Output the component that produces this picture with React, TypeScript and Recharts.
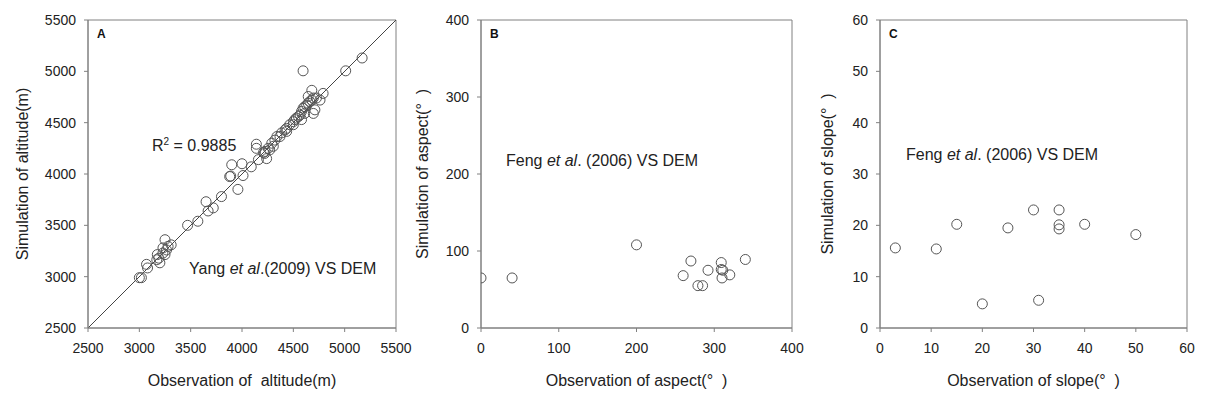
import React from "react";
import { ScatterChart, Scatter, XAxis, YAxis, ReferenceLine, ReferenceArea, Label } from "recharts";

// panel A: altitude (m)
const altObs = [3000, 3020, 3070, 3080, 3175, 3170, 3200, 3190, 3250, 3230, 3265, 3250, 3280, 3310, 3230, 3470, 3570, 3650, 3670, 3720, 3800, 3890, 3900, 3880, 3960, 4000, 4010, 4090, 4140, 4140, 4160, 4240, 4220, 4225, 4255, 4290, 4320, 4340, 4385, 4420, 4435, 4465, 4500, 4515, 4530, 4550, 4565, 4580, 4595, 4610, 4630, 4645, 4660, 4680, 4695, 4725, 4760, 4790, 4680, 4710, 4695, 4595, 5010, 5170, 4580, 4500, 4435, 4370, 4305, 4270, 4210, 4645, 4610];
const altSim = [2990, 2990, 3120, 3085, 3215, 3165, 3135, 3180, 3360, 3230, 3260, 3215, 3295, 3310, 3280, 3500, 3540, 3730, 3640, 3670, 3780, 3980, 4090, 3975, 3850, 4100, 3985, 4070, 4290, 4250, 4140, 4150, 4200, 4220, 4250, 4300, 4330, 4365, 4400, 4430, 4445, 4480, 4510, 4530, 4545, 4560, 4575, 4610, 4640, 4655, 4670, 4690, 4705, 4720, 4740, 4740, 4720, 4785, 4815, 4625, 4590, 5005, 5005, 5130, 4530, 4480, 4415, 4365, 4270, 4235, 4210, 4755, 4590];

// panel B: aspect (deg)
const aspectObs = [0, 40, 200, 260, 270, 279, 285, 292, 309, 309, 311, 310, 320, 340];
const aspectSim = [65, 65, 108, 68, 87, 55, 55, 75, 85, 76, 75, 65, 69, 89];

// panel C: slope (deg)
const slopeObs = [3, 11, 15, 20, 25, 30, 31, 35, 35, 35, 40, 50];
const slopeSim = [15.6, 15.4, 20.2, 4.7, 19.5, 23, 5.4, 23, 20.1, 19.3, 20.2, 18.2];

const altTicks = [2500, 3000, 3500, 4000, 4500, 5000, 5500];
const aspectTicks = [0, 100, 200, 300, 400];
const slopeTicks = [0, 10, 20, 30, 40, 50, 60];

const toPoints = (xs: number[], ys: number[]) => xs.map((x, i) => ({ x, y: ys[i] }));

const FONT = "Arial, 'Liberation Sans', sans-serif";
const AXIS = "#808080";
const tickStyle = { fontSize: 14, fill: "#222", fontFamily: FONT };

const Ring = (p: any) => <circle cx={p.cx} cy={p.cy} r={5} fill="none" stroke="#555" strokeWidth={1} />;

const xLabel = (text: string) => (props: any) => {
  const vb = props.viewBox;
  return (
    <text x={vb.x + vb.width / 2} y={vb.y + 58} textAnchor="middle" fontSize={16} fill="#222" fontFamily={FONT}>
      {text}
    </text>
  );
};

const yLabel = (text: string, dx: number) => (props: any) => {
  const vb = props.viewBox;
  const cx = vb.x + dx;
  const cy = vb.y + vb.height / 2;
  return (
    <text x={cx} y={cy} transform={`rotate(-90 ${cx} ${cy})`} textAnchor="middle" dominantBaseline="central" fontSize={16} fill="#222" fontFamily={FONT}>
      {text}
    </text>
  );
};

interface PanelProps {
  left: number; width: number; yAxisWidth: number; marginRight: number;
  data: { x: number; y: number }[]; ticks: number[]; letter: string;
  xText: string; yText: string; yLabelDx: number; diagonal?: boolean;
}

function Panel({ left, width, yAxisWidth, marginRight, data, ticks, letter, xText, yText, yLabelDx, diagonal }: PanelProps) {
  const lo = ticks[0];
  const hi = ticks[ticks.length - 1];
  return (
    <div style={{ position: "absolute", left, top: 0 }}>
      <ScatterChart width={width} height={406} margin={{ top: 20, right: marginRight, bottom: 0, left: 0 }}>
        <XAxis type="number" dataKey="x" domain={[lo, hi]} ticks={ticks} allowDataOverflow height={78}
          stroke={AXIS} tickSize={4} tickMargin={11} tick={tickStyle}>
          <Label content={xLabel(xText)} />
        </XAxis>
        <YAxis type="number" dataKey="y" domain={[lo, hi]} ticks={ticks} allowDataOverflow width={yAxisWidth}
          stroke={AXIS} tickSize={4} tickMargin={8} tick={tickStyle}>
          <Label content={yLabel(yText, yLabelDx)} />
        </YAxis>
        <ReferenceArea x1={lo} x2={hi} y1={lo} y2={hi} fill="none" stroke={AXIS} strokeWidth={1} fillOpacity={0}
          label={{ value: letter, position: "insideTopLeft", offset: 9, fontSize: 12, fontWeight: "bold", fill: "#111", fontFamily: FONT }} />
        {diagonal && (
          <ReferenceLine segment={[{ x: lo, y: lo }, { x: hi, y: hi }]} stroke="#444" strokeWidth={1} />
        )}
        <Scatter data={data} shape={Ring} isAnimationActive={false} />
      </ScatterChart>
    </div>
  );
}

const note: React.CSSProperties = { position: "absolute", fontFamily: FONT, fontSize: 16, color: "#222", whiteSpace: "nowrap", lineHeight: "16px" };

export default function App() {
  return (
    <div style={{ position: "absolute", left: 0, top: 0, width: 1208, height: 406, background: "#fff" }}>
      <Panel left={0} width={420} yAxisWidth={88} marginRight={24} data={toPoints(altObs, altSim)} ticks={altTicks}
        letter="A" xText={"Observation of\u00a0\u00a0altitude(m)"} yText="Simulation of altitude(m)" yLabelDx={22} diagonal />
      <Panel left={400} width={420} yAxisWidth={81} marginRight={28} data={toPoints(aspectObs, aspectSim)} ticks={aspectTicks}
        letter="B" xText={"Observation of aspect(°\u00a0\u00a0)"} yText={"Simulation of aspect(°\u00a0\u00a0)"} yLabelDx={22} />
      <Panel left={800} width={408} yAxisWidth={80} marginRight={21} data={toPoints(slopeObs, slopeSim)} ticks={slopeTicks}
        letter="C" xText={"Observation of slope(°\u00a0\u00a0)"} yText={"Simulation of slope(°\u00a0\u00a0)"} yLabelDx={27} />
      <div style={{ ...note, left: 152, top: 134 }}>R<sup style={{ fontSize: 10 }}>2</sup> = 0.9885</div>
      <div style={{ ...note, left: 189, top: 261 }}>Yang <i>et al</i>.(2009) VS DEM</div>
      <div style={{ ...note, left: 506, top: 153 }}>Feng <i>et al</i>. (2006) VS DEM</div>
      <div style={{ ...note, left: 906, top: 147 }}>Feng <i>et al</i>. (2006) VS DEM</div>
    </div>
  );
}
